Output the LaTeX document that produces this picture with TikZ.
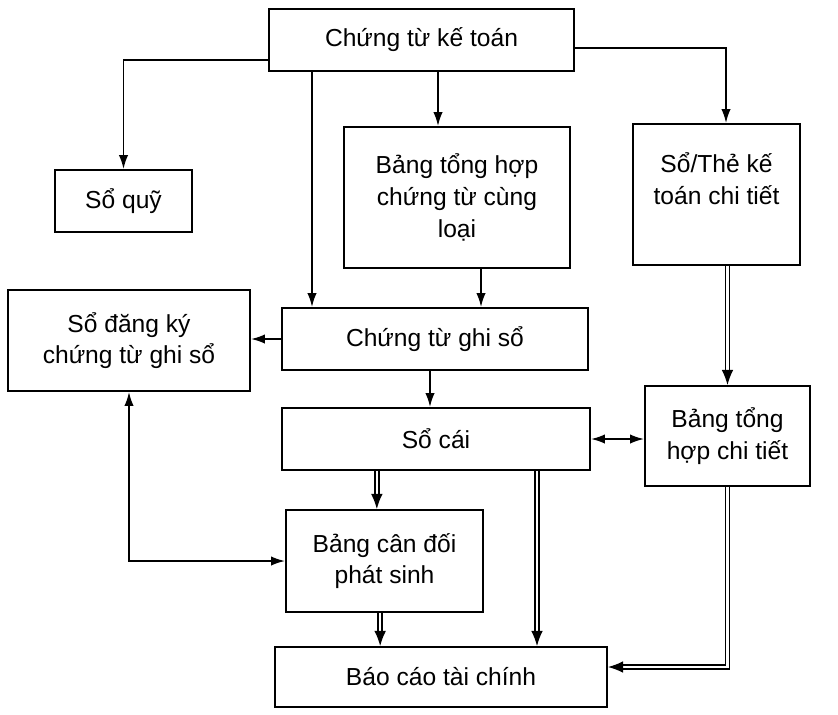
\documentclass[tikz,border=0pt]{standalone}
\usepackage{fontspec}
\setmainfont{Liberation Sans}
\usetikzlibrary{arrows.meta, positioning}

\tikzset{
    box/.style={draw, line width=1.5pt, align=center, inner sep=2pt,
                font=\fontsize{21}{27}\selectfont},
    arr/.style={line width=1.6pt, -{Latex[length=12pt, width=8pt]}},
    arrs/.style={line width=1.6pt, {Latex[length=12pt, width=8pt]}-{Latex[length=12pt, width=8pt]}},
    dbl/.style={double, double distance=2.2pt, line width=1.3pt, -{Latex[length=13pt, width=10pt]}},
}

\begin{document}
\begin{tikzpicture}[x=0.03cm, y=-0.03cm]
    \useasboundingbox (0,0) rectangle (838,714);

    \node[box, minimum width=9.15cm, minimum height=1.86cm] (ctkt)   at (421.5,40)  {Chứng từ kế toán};
    \node[box, minimum width=4.11cm, minimum height=1.86cm] (soquy)  at (123.5,201) {Sổ quỹ};
    \node[box, minimum width=6.78cm, minimum height=4.23cm] (bthct)  at (457,197.5) {Bảng tổng hợp\\chứng từ cùng\\loại};
    \node[box, minimum width=5.01cm, minimum height=4.23cm] (sothe)  at (716.5,194.5) {Sổ/Thẻ kế\\toán chi tiết\\\mbox{}};
    \node[box, minimum width=9.18cm, minimum height=1.86cm] (ctgs)   at (435,339)   {Chứng từ ghi sổ};
    \node[box, minimum width=7.26cm, minimum height=3.03cm] (sodk)   at (129,340.5) {Sổ đăng ký\\chứng từ ghi sổ};
    \node[box, minimum width=9.24cm, minimum height=1.86cm] (socai)  at (436,439)   {Sổ cái};
    \node[box, minimum width=4.95cm, minimum height=3.0cm]  (bthctt) at (727.5,436) {Bảng tổng\\hợp chi tiết};
    \node[box, minimum width=5.91cm, minimum height=3.06cm] (bcdps)  at (384.5,561) {Bảng cân đối\\phát sinh};
    \node[box, minimum width=9.96cm, minimum height=1.8cm]  (bctc)   at (441,677)   {Báo cáo tài chính};

    % single arrows
    \draw[arr] ([yshift=-0.6cm]ctkt.west) -| (soquy);
    \draw[arr] ([yshift=-0.24cm]ctkt.east) -| ([xshift=0.285cm]sothe.north);
    \draw[arr] ([xshift=0.495cm]ctkt.south) -- ([xshift=-0.57cm]bthct.north);
    \draw[arr] ([xshift=-3.285cm]ctkt.south) -- ([xshift=-3.69cm]ctgs.north);
    \draw[arr] ([xshift=0.72cm]bthct.south) -- ([xshift=1.38cm]ctgs.north);
    \draw[arr] (ctgs.west) -- (ctgs.west -| sodk.east);
    \draw[arr] ([xshift=-0.15cm]ctgs.south) -- ([xshift=-0.15cm]ctgs.south |- socai.north);
    \draw[arrs] (socai.east) -- (socai.east -| bthctt.west);
    \draw[arrs] (sodk.south) |- (bcdps.west);

    % double arrows
    \draw[dbl] (sothe.south -| bthctt.north) -- (bthctt.north);
    \draw[dbl] ([xshift=-0.23cm]bcdps.north |- socai.south) -- ([xshift=-0.23cm]bcdps.north);
    \draw[dbl] ([xshift=3.03cm]socai.south) -- ([xshift=3.03cm]socai.south |- bctc.north);
    \draw[dbl] ([xshift=-0.13cm]bcdps.south) -- ([xshift=-0.13cm]bcdps.south |- bctc.north);
    \draw[dbl] (bthctt.south) |- ([yshift=0.3cm]bctc.east);
\end{tikzpicture}
\end{document}
